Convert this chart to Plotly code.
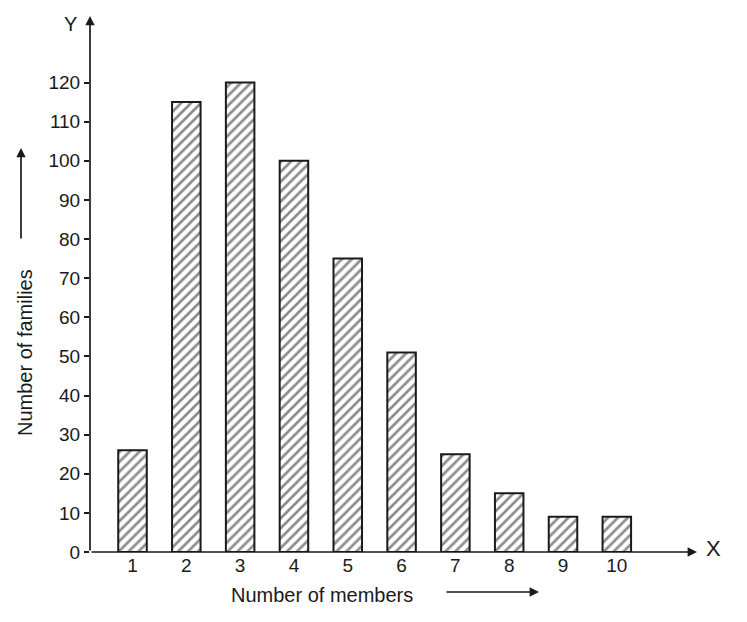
import plotly.graph_objects as go

# members per family vs number of families
members = [1, 2, 3, 4, 5, 6, 7, 8, 9, 10]
families = [26, 115, 120, 100, 75, 51, 25, 15, 9, 9]
y_ticks = [0, 10, 20, 30, 40, 50, 60, 70, 80, 90, 100, 110, 120]

INK = "#1a1a1a"
FONT = "Liberation Sans, Arial, sans-serif"

# page body has an 8px margin, so the figure is drawn slightly smaller
OFF = 8
W, H = 747 - 2 * OFF, 622 - 2 * OFF
L, R, T, B = 90 - OFF, 42, 16 - OFF, 62


def px(x):  # screen pixel x -> paper
    return (x - OFF - L) / (W - L - R)


def py(y):  # screen pixel y -> paper
    return (H - B - (y - OFF)) / (H - T - B)


fig = go.Figure(go.Bar(
    x=members, y=families, width=0.53,
    marker=dict(color="white",
                line=dict(color=INK, width=2),
                pattern=dict(shape="/", size=7, solidity=0.38,
                             fgcolor=INK, bgcolor="white")),
    showlegend=False,
))

fig.update_layout(
    width=W, height=H,
    paper_bgcolor="white", plot_bgcolor="white",
    margin=dict(l=L, r=R, t=T, b=B),
    font=dict(family=FONT, color=INK, size=19),
    xaxis=dict(range=[0.21, 11.49], tickvals=members, ticks="",
               showgrid=False, zeroline=False, showline=False,
               tickfont=dict(size=19)),
    yaxis=dict(range=[0, 137], tickvals=y_ticks, ticks="outside",
               ticklen=5, tickwidth=1.5, tickcolor=INK,
               showgrid=False, zeroline=False, showline=False,
               tickfont=dict(size=19)),
)

arrow = dict(text="", showarrow=True, arrowhead=2, arrowsize=1.1,
             arrowwidth=1.7, arrowcolor=INK)
label = dict(xref="paper", yref="paper", showarrow=False,
             xanchor="center", yanchor="middle")

# axis lines with arrow heads
fig.add_annotation(**arrow, xref="x domain", yref="y domain",
                   axref="x domain", ayref="y domain",
                   x=0, y=1, ax=0, ay=0)
fig.add_annotation(**arrow, xref="x domain", yref="y domain",
                   axref="x domain", ayref="y domain",
                   x=1, y=0, ax=0, ay=0)

# axis letters
fig.add_annotation(**label, text="Y", x=px(70), y=py(24), font=dict(size=20))
fig.add_annotation(**label, text="X", x=px(713), y=py(548), font=dict(size=22))

# axis titles with their little arrows
fig.add_annotation(**label, text="Number of families", textangle=-90,
                   x=px(25), y=py(353), font=dict(size=20))
fig.add_annotation(**arrow, xref="paper", yref="paper",
                   x=px(21), y=py(148), axref="pixel", ayref="pixel",
                   ax=0, ay=92)
fig.add_annotation(**label, text="Number of members",
                   x=px(322), y=py(595), font=dict(size=20))
fig.add_annotation(**arrow, xref="paper", yref="paper",
                   x=px(539), y=py(592), axref="pixel", ayref="pixel",
                   ax=-94, ay=0)

fig.write_html("out.html")
